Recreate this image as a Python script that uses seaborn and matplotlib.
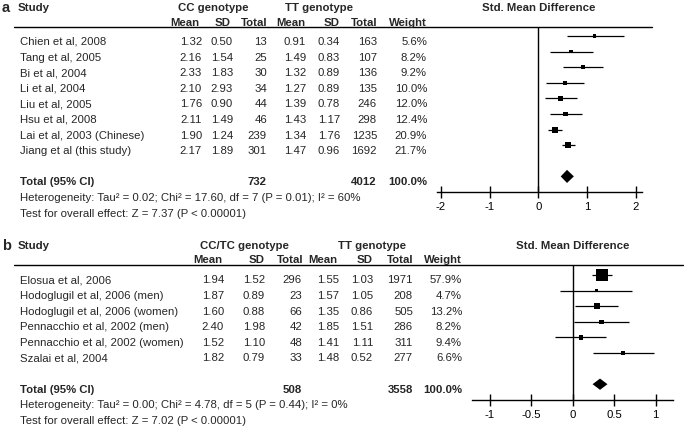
import matplotlib
matplotlib.use("Agg")
import matplotlib.pyplot as plt
import seaborn as sns
import pandas as pd

# ---------------- Panel a data ----------------
a_study = ["Chien et al, 2008", "Tang et al, 2005", "Bi et al, 2004", "Li et al, 2004",
           "Liu et al, 2005", "Hsu et al, 2008", "Lai et al, 2003 (Chinese)", "Jiang et al (this study)"]
a_cc_mean = [1.32, 2.16, 2.33, 2.10, 1.76, 2.11, 1.90, 2.17]
a_cc_sd = [0.50, 1.54, 1.83, 2.93, 0.90, 1.49, 1.24, 1.89]
a_cc_n = [13, 25, 30, 34, 44, 46, 239, 301]
a_tt_mean = [0.91, 1.49, 1.32, 1.27, 1.39, 1.43, 1.34, 1.47]
a_tt_sd = [0.34, 0.83, 0.89, 0.89, 0.78, 1.17, 1.76, 0.96]
a_tt_n = [163, 107, 136, 135, 246, 298, 1235, 1692]
a_weight = [5.6, 8.2, 9.2, 10.0, 12.0, 12.4, 20.9, 21.7]
a_smd = [1.16, 0.67, 0.91, 0.54, 0.46, 0.56, 0.34, 0.61]
a_lo = [0.58, 0.23, 0.50, 0.16, 0.14, 0.25, 0.19, 0.49]
a_hi = [1.75, 1.12, 1.32, 0.94, 0.80, 0.89, 0.49, 0.75]
a_total_smd = [0.59, 0.46, 0.73]          # estimate, lower, upper
a_total_n = [732, 4012]
a_het = "Heterogeneity: Tau\u00b2 = 0.02; Chi\u00b2 = 17.60, df = 7 (P = 0.01); I\u00b2 = 60%"
a_test = "Test for overall effect: Z = 7.37 (P < 0.00001)"
a_ticks = [-2, -1, 0, 1, 2]
a_groups = ["CC genotype", "TT genotype"]

# ---------------- Panel b data ----------------
b_study = ["Elosua et al, 2006", "Hodoglugil et al, 2006 (men)", "Hodoglugil et al, 2006 (women)",
           "Pennacchio et al, 2002 (men)", "Pennacchio et al, 2002 (women)", "Szalai et al, 2004"]
b_cc_mean = [1.94, 1.87, 1.60, 2.40, 1.52, 1.82]
b_cc_sd = [1.52, 0.89, 0.88, 1.98, 1.10, 0.79]
b_cc_n = [296, 23, 66, 42, 48, 33]
b_tt_mean = [1.55, 1.57, 1.35, 1.85, 1.41, 1.48]
b_tt_sd = [1.03, 1.05, 0.86, 1.51, 1.11, 0.52]
b_tt_n = [1971, 208, 505, 286, 311, 277]
b_weight = [57.9, 4.7, 13.2, 8.2, 9.4, 6.6]
b_smd = [0.35, 0.29, 0.29, 0.35, 0.10, 0.61]
b_lo = [0.23, -0.15, 0.03, 0.02, -0.21, 0.24]
b_hi = [0.48, 0.72, 0.55, 0.68, 0.40, 0.98]
b_total_smd = [0.33, 0.24, 0.42]
b_total_n = [508, 3558]
b_het = "Heterogeneity: Tau\u00b2 = 0.00; Chi\u00b2 = 4.78, df = 5 (P = 0.44); I\u00b2 = 0%"
b_test = "Test for overall effect: Z = 7.02 (P < 0.00001)"
b_ticks = [-1, -0.5, 0, 0.5, 1]
b_groups = ["CC/TC genotype", "TT genotype"]

col_heads = ["Mean", "SD", "Total", "Mean", "SD", "Total", "Weight"]

sns.set_theme(style="white")
plt.rcParams["font.family"] = ["Liberation Sans", "DejaVu Sans"]

W, H = 685, 431
fig = plt.figure(figsize=(6.85, 4.31), dpi=100)
bg = fig.add_axes([0, 0, 1, 1])
bg.set_xlim(0, W)
bg.set_ylim(H, 0)
bg.axis("off")

FS = 8.2
STEP = 15.6


def px_axes(x0, y0, x1, y1):
    return fig.add_axes([x0 / W, 1 - y1 / H, (x1 - x0) / W, (y1 - y0) / H])


def panel(cfg):
    letter, top, name_x, val_x, head_x, grp_x = cfg["letter"], cfg["top"], cfg["name_x"], cfg["val_x"], cfg["head_x"], cfg["grp_x"]
    study = cfg["study"]
    nrow = len(study)
    zero_px, unit_px = cfg["zero_px"], cfg["unit_px"]
    ax_l, ax_r = cfg["axis_px"]
    line_y = top
    first = top + cfg["first_off"]
    total_row = nrow + 1
    bottom_row = nrow + 2
    axis_y = first + bottom_row * STEP

    # headings
    bg.text(2, top - 20, letter, fontsize=10.5, fontweight="bold", va="center", ha="left")
    bg.text(18, top - 20, "Study", fontsize=FS, fontweight="bold", va="center", ha="left")
    for g, gx in zip(cfg["groups"], grp_x):
        bg.text(gx, top - 20, g, fontsize=FS, fontweight="bold", va="center", ha="center")
    bg.text(zero_px, top - 20, "Std. Mean Difference", fontsize=FS, fontweight="bold", va="center", ha="center")
    for h, hx in zip(col_heads, head_x):
        bg.text(hx, top - 5.5, h, fontsize=FS, fontweight="bold", va="center", ha="right")
    bg.plot([cfg["line_x"][0], cfg["line_x"][1]], [line_y, line_y], color="black", lw=1.0)

    # rows
    cols = [cfg["cc_mean"], cfg["cc_sd"], cfg["cc_n"], cfg["tt_mean"], cfg["tt_sd"], cfg["tt_n"], cfg["weight"]]
    fmts = ["{:.2f}", "{:.2f}", "{:d}", "{:.2f}", "{:.2f}", "{:d}", "{:.1f}%"]
    for i, s in enumerate(study):
        y = first + i * STEP + cfg["txt_off"]
        bg.text(name_x, y, s, fontsize=FS, va="center", ha="left")
        for col, f, vx in zip(cols, fmts, val_x):
            bg.text(vx, y, f.format(col[i]), fontsize=FS, va="center", ha="right")
    ty = first + total_row * STEP + cfg["txt_off"]
    bg.text(name_x, ty, "Total (95% CI)", fontsize=FS, fontweight="bold", va="center", ha="left")
    bg.text(val_x[2], ty, str(cfg["total_n"][0]), fontsize=FS, fontweight="bold", va="center", ha="right")
    bg.text(val_x[5], ty, str(cfg["total_n"][1]), fontsize=FS, fontweight="bold", va="center", ha="right")
    bg.text(val_x[6], ty, "{:.1f}%".format(sum(cfg["weight"])), fontsize=FS, fontweight="bold", va="center", ha="right")
    bg.text(name_x, first + bottom_row * STEP + cfg["txt_off"], cfg["het"], fontsize=FS, va="center", ha="left")
    bg.text(name_x, first + (bottom_row + 1) * STEP + cfg["txt_off"], cfg["test"], fontsize=FS, va="center", ha="left")

    # forest axes
    ax = px_axes(ax_l, line_y, ax_r, axis_y)
    xlim = ((ax_l - zero_px) / unit_px, (ax_r - zero_px) / unit_px)
    top_row = -(first - line_y) / STEP
    df = pd.DataFrame({"row": list(range(nrow)), "smd": cfg["smd"], "lo": cfg["lo"],
                       "hi": cfg["hi"], "weight": cfg["weight"]})
    ax.hlines(df["row"], df["lo"], df["hi"], color="black", lw=0.9)
    wmax = max(cfg["weight"])
    sns.scatterplot(data=df, x="smd", y="row", size="weight", sizes=(0, cfg["k"] * wmax),
                    size_norm=(0, wmax), marker="s", color="black", linewidth=0,
                    legend=False, ax=ax, zorder=3)
    est, lo, hi = cfg["total_smd"]
    hh = cfg["dh"]
    ax.fill([lo, est, hi, est], [total_row, total_row - hh, total_row, total_row + hh],
            color="black", lw=0)
    ax.axvline(0, color="black", lw=1.0)
    ax.set_xlim(*xlim)
    ax.set_ylim(bottom_row, top_row)
    ax.set_xticks(cfg["ticks"])
    ax.set_xticklabels([("{:g}".format(t)) for t in cfg["ticks"]])
    ax.set_yticks([])
    ax.set_xlabel("")
    ax.set_ylabel("")
    for side in ["top", "left", "right"]:
        ax.spines[side].set_visible(False)
    ax.spines["bottom"].set_color("black")
    ax.spines["bottom"].set_linewidth(1.0)
    ax.tick_params(axis="x", direction="inout", length=8, width=1.0, colors="black",
                   labelsize=FS, pad=2.5, bottom=True)
    ax.patch.set_alpha(0)


panel(dict(letter="a", top=28, first_off=9, txt_off=5, name_x=20,
           val_x=[202, 233, 267, 306, 340, 377, 427],
           head_x=[199, 231, 268, 305, 340, 378, 427],
           grp_x=[213, 319], groups=a_groups, line_x=(14, 652),
           study=a_study, cc_mean=a_cc_mean, cc_sd=a_cc_sd, cc_n=a_cc_n,
           tt_mean=a_tt_mean, tt_sd=a_tt_sd, tt_n=a_tt_n, weight=a_weight,
           smd=a_smd, lo=a_lo, hi=a_hi, total_smd=a_total_smd, total_n=a_total_n,
           het=a_het, test=a_test, ticks=a_ticks,
           zero_px=538.3, unit_px=48.7, axis_px=(437, 642), k=0.86, dh=0.42))

panel(dict(letter="b", top=266, first_off=10, txt_off=4.5, name_x=20,
           val_x=[224, 265, 302, 339, 373, 413, 462],
           head_x=[222, 265, 304, 337, 373, 414, 462],
           grp_x=[244, 372], groups=b_groups, line_x=(14, 683),
           study=b_study, cc_mean=b_cc_mean, cc_sd=b_cc_sd, cc_n=b_cc_n,
           tt_mean=b_tt_mean, tt_sd=b_tt_sd, tt_n=b_tt_n, weight=b_weight,
           smd=b_smd, lo=b_lo, hi=b_hi, total_smd=b_total_smd, total_n=b_total_n,
           het=b_het, test=b_test, ticks=b_ticks,
           zero_px=572.7, unit_px=82.8, axis_px=(472, 673), k=1.29, dh=0.36))

fig.savefig("out.png", dpi=100, facecolor="white")
